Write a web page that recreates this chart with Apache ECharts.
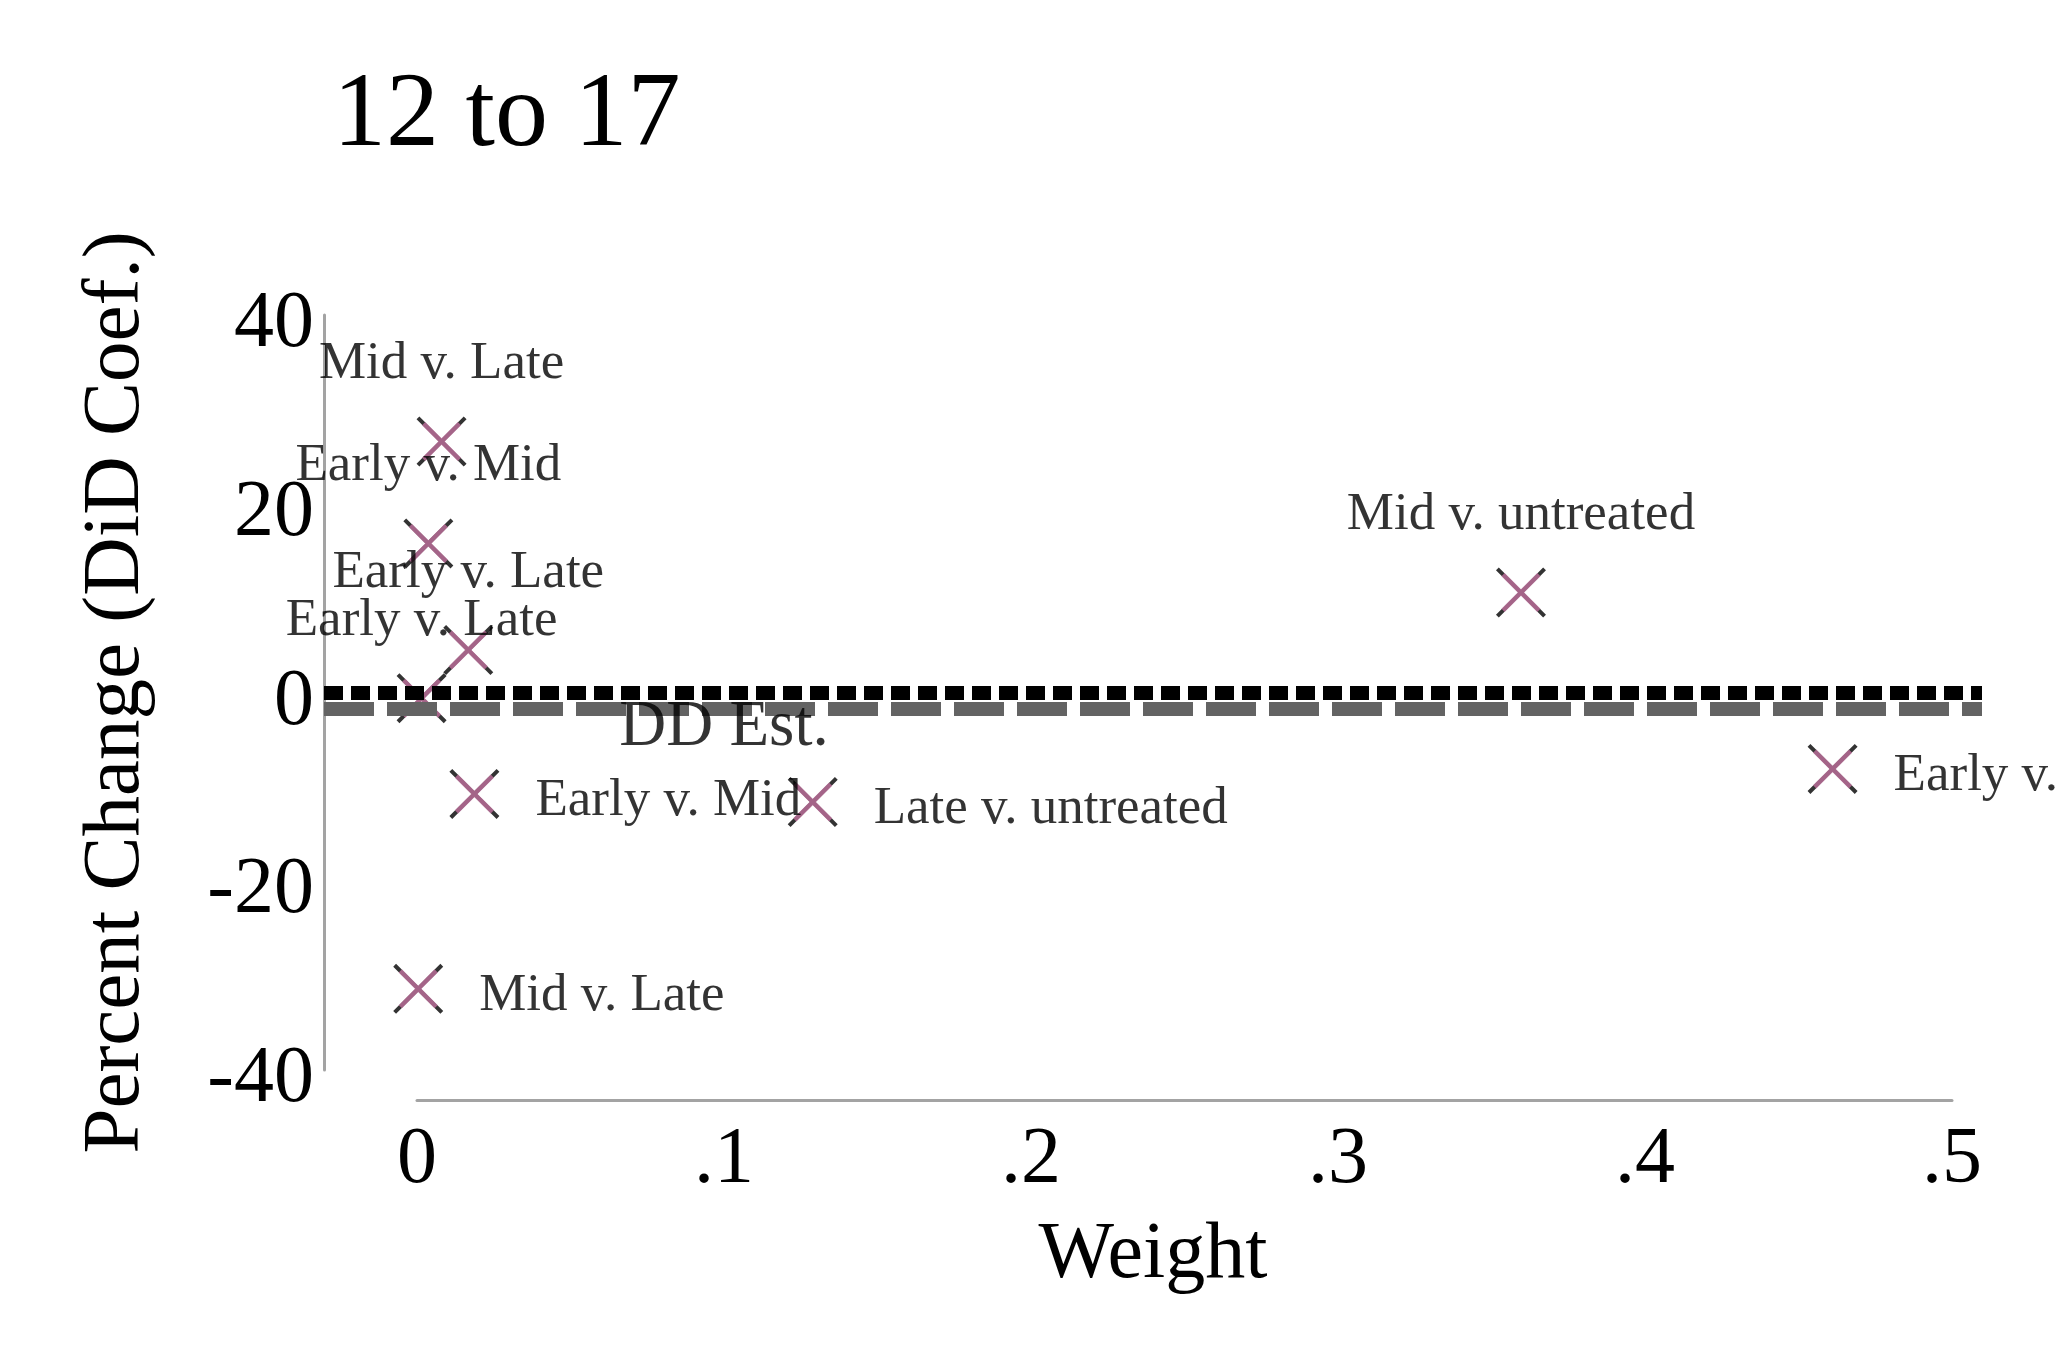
<!DOCTYPE html>
<html>
<head>
<meta charset="utf-8">
<script src="https://cdn.jsdelivr.net/npm/echarts@6/dist/echarts.min.js"></script>
<style>
html,body{margin:0;padding:0;background:#fff;}
#chart{width:2058px;height:1372px;}
</style>
</head>
<body>
<div id="chart"></div>
<script>
// ---- data ----
const titleText = '12 to 17';
const pairLabels = ['Mid v. Late','Early v. Mid','Early v. Late','Early v. Late','Early v. Mid','Late v. untreated','Mid v. Late','Mid v. untreated','Early v. untreated'];
const weights = [0.0080, 0.0037, 0.0167, 0.0015, 0.0187, 0.1289, 0.0004, 0.3596, 0.4611];
const estimates = [26.6, 15.8, 4.5, -0.6, -10.75, -11.6, -31.4, 10.6, -8.1];
const labelSide = ['top','top','top','top','right','right','right','top','right'];
const ddEstimate = -1.72;
const ddLabelX = 0.1;
const ddLabelText = 'DD Est.';
const xTicks = [0, 0.1, 0.2, 0.3, 0.4, 0.5];
const yTicks = [-40, -20, 0, 20, 40];
const xName = 'Weight';
const yName = 'Percent Change (DiD Coef.)';

// ---- chart ----
const FONT = "'Liberation Serif','Times New Roman',serif";
const PINK = '#c0719e';
const xBlack = 'path://M0 5.66 L5.66 0 L50 44.34 L94.34 0 L100 5.66 L55.66 50 L100 94.34 L94.34 100 L50 55.66 L5.66 100 L0 94.34 L44.34 50 Z';
const xPink  = 'path://M0 8.16 L8.16 0 L50 41.84 L91.84 0 L100 8.16 L58.16 50 L100 91.84 L91.84 100 L50 58.16 L8.16 100 L0 91.84 L41.84 50 Z';
const PINK_SIZE = 39;
const half = PINK_SIZE / 2;

const points = weights.map((w, i) => [w, estimates[i]]);
const pinkData = points.map((p, i) => {
  const top = labelSide[i] === 'top';
  return {
    value: p,
    label: {
      show: true,
      formatter: pairLabels[i],
      position: top ? [half, half - 77] : [half + 61, half + 7],
      align: top ? 'center' : 'left',
      verticalAlign: 'middle',
      color: '#000',
      fontFamily: FONT,
      fontSize: 53
    }
  };
});

const xFmt = v => {
  if (Math.abs(v) < 1e-9) return '0';
  return v.toFixed(1).replace(/^0\./, '.').replace(/^-0\./, '-.');
};

const chart = echarts.init(document.getElementById('chart'), null, {renderer: 'canvas'});
chart.setOption({
  backgroundColor: '#fff',
  animation: false,
  title: {
    text: titleText,
    left: 333, top: 64, padding: 0,
    textStyle: {fontFamily: FONT, fontSize: 106, fontWeight: 'normal', color: '#000'}
  },
  grid: [
    {left: 324, right: 76, top: 315, bottom: 302, containLabel: false},
    {left: 417, right: 106, top: 315, bottom: 272, containLabel: false}
  ],
  xAxis: [
    {
      gridIndex: 0, type: 'value', min: -0.03029, max: 0.50977,
      axisLine: {show: false, onZero: false}, axisTick: {show: false}, axisLabel: {show: false}, splitLine: {show: false},
      name: xName, nameLocation: 'middle', nameGap: 146,
      nameTextStyle: {fontFamily: FONT, fontSize: 80, color: '#000'}
    },
    {
      gridIndex: 1, type: 'value', min: xTicks[0], max: xTicks[xTicks.length - 1], interval: 0.1,
      axisLine: {show: true, onZero: false, lineStyle: {color: '#a3a3a3', width: 3}},
      axisTick: {show: false}, splitLine: {show: false},
      axisLabel: {show: true, margin: 21, fontFamily: FONT, fontSize: 80, color: '#000', formatter: xFmt}
    }
  ],
  yAxis: [
    {
      gridIndex: 0, type: 'value', min: yTicks[0], max: yTicks[yTicks.length - 1], interval: 20,
      axisLine: {show: true, onZero: false, lineStyle: {color: '#a3a3a3', width: 3}},
      axisTick: {show: false}, splitLine: {show: false},
      axisLabel: {show: true, margin: 10, fontFamily: FONT, fontSize: 80, color: '#000',
                  verticalAlign: 'top', lineHeight: 20},
      name: yName, nameLocation: 'middle', nameGap: 167, nameRotate: 90,
      nameTextStyle: {fontFamily: FONT, fontSize: 81, color: '#000'}
    },
    {
      gridIndex: 1, type: 'value', min: -40, max: 40, show: false,
      axisLine: {onZero: false}
    }
  ],
  series: [
    {
      type: 'scatter', xAxisIndex: 0, yAxisIndex: 0, z: 1, silent: true,
      data: [],
      markLine: {
        silent: true, symbol: ['none', 'none'], label: {show: false}, animation: false,
        data: [
          {yAxis: ddEstimate, lineStyle: {color: '#636363', width: 14, type: [50, 13], cap: 'butt'}},
          {yAxis: 0, lineStyle: {color: '#000', width: 14, type: [19, 8], cap: 'butt'}}
        ]
      }
    },
    {
      type: 'scatter', xAxisIndex: 0, yAxisIndex: 0, z: 3, silent: true,
      symbol: xBlack, symbolSize: 50,
      itemStyle: {color: '#000'},
      data: points
    },
    {
      type: 'scatter', xAxisIndex: 0, yAxisIndex: 0, z: 4, silent: true,
      symbol: xPink, symbolSize: PINK_SIZE,
      itemStyle: {color: PINK},
      data: pinkData
    },
    {
      type: 'scatter', xAxisIndex: 0, yAxisIndex: 0, z: 5, silent: true,
      symbolSize: 0,
      label: {show: true, position: [0, 19], align: 'center', verticalAlign: 'middle',
              formatter: ddLabelText, fontFamily: FONT, fontSize: 65, color: '#000'},
      data: [[ddLabelX, ddEstimate]]
    }
  ]
});
</script>
</body>
</html>
